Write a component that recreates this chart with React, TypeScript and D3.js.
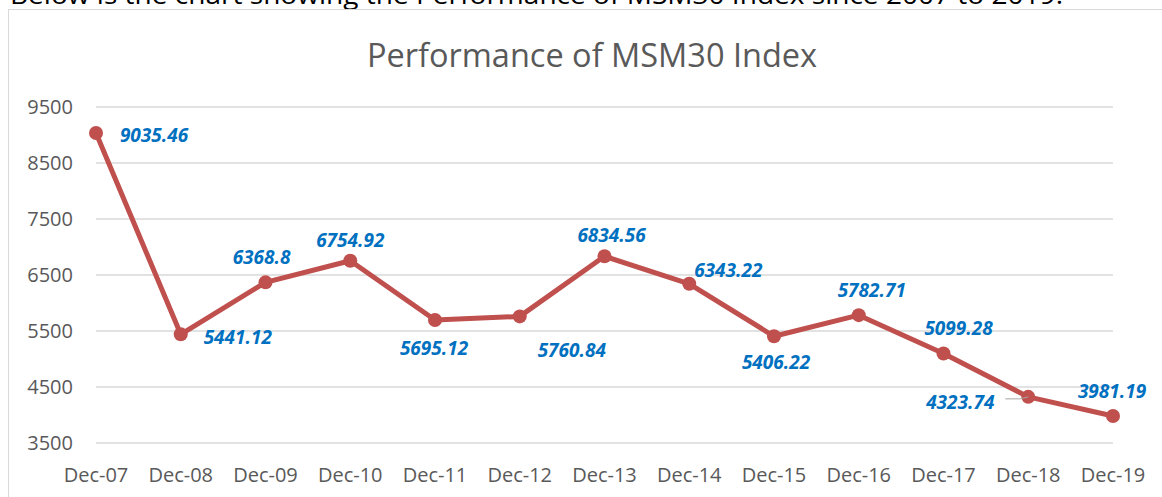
import React, {useEffect, useRef} from 'react';
import * as d3 from 'd3';

// MSM30 index, year-end closing values
const periods = ['Dec-07', 'Dec-08', 'Dec-09', 'Dec-10', 'Dec-11', 'Dec-12', 'Dec-13',
    'Dec-14', 'Dec-15', 'Dec-16', 'Dec-17', 'Dec-18', 'Dec-19'];
const indexValues = [9035.46, 5441.12, 6368.8, 6754.92, 5695.12, 5760.84, 6834.56,
    6343.22, 5406.22, 5782.71, 5099.28, 4323.74, 3981.19];
const yTicks = [3500, 4500, 5500, 6500, 7500, 8500, 9500];

const chartTitle = 'Performance of MSM30 Index';
const introText = 'Below is the chart showing the Performance of MSM30 Index since 2007 to 2019.';

export default function App() {
    const svgRef = useRef<SVGSVGElement>(null);

    const svgWidth = 1162,
        svgHeight = 497;

    useEffect(() => {
        const svg = d3.select(svgRef.current);
        svg.selectAll('*').remove();

        const font = '"Open Sans", "DejaVu Sans", sans-serif';

        // sentence from the surrounding document, cut off at the top
        svg.append('text')
            .attr('x', 10)
            .attr('y', 4)
            .attr('textLength', 1053)
            .attr('lengthAdjust', 'spacingAndGlyphs')
            .style('font-family', font)
            .style('font-size', '26px')
            .attr('fill', '#000')
            .text(introText);

        // chart area border (runs off the right and bottom edges)
        svg.append('rect')
            .attr('x', 8.5)
            .attr('y', 9.5)
            .attr('width', 1180)
            .attr('height', 520)
            .attr('fill', 'none')
            .attr('stroke', '#d9d9d9')
            .attr('stroke-width', 1);

        svg.append('text')
            .attr('x', 592)
            .attr('y', 67)
            .attr('text-anchor', 'middle')
            .style('font-family', font)
            .style('font-size', '32.5px')
            .attr('fill', '#595959')
            .text(chartTitle);

        const x = d3.scalePoint<string>()
            .domain(periods)
            .range([96, 1113]);

        const y = d3.scaleLinear()
            .domain([3500, 9500])
            .range([443, 107]);

        // horizontal gridlines
        svg.append('g')
            .selectAll('line')
            .data(yTicks)
            .enter()
            .append('line')
            .attr('x1', 96)
            .attr('x2', 1113)
            .attr('y1', d => y(d))
            .attr('y2', d => y(d))
            .attr('stroke', '#d9d9d9')
            .attr('stroke-width', 1.5);

        // y axis labels
        svg.append('g')
            .selectAll('text')
            .data(yTicks)
            .enter()
            .append('text')
            .attr('x', 73)
            .attr('y', d => y(d))
            .attr('dy', '0.35em')
            .attr('text-anchor', 'end')
            .style('font-family', font)
            .style('font-size', '20px')
            .attr('fill', '#595959')
            .text(d => d);

        // x axis labels
        svg.append('g')
            .selectAll('text')
            .data(periods)
            .enter()
            .append('text')
            .attr('x', d => x(d)!)
            .attr('y', 475)
            .attr('dy', '0.35em')
            .attr('text-anchor', 'middle')
            .style('font-family', font)
            .style('font-size', '20px')
            .attr('fill', '#595959')
            .text(d => d);

        const points = periods.map((p, i) => [x(p)!, y(indexValues[i])] as [number, number]);

        const line = d3.line<[number, number]>()
            .x(d => d[0])
            .y(d => d[1]);

        svg.append('path')
            .datum(points)
            .attr('d', line)
            .attr('fill', 'none')
            .attr('stroke', '#c0504d')
            .attr('stroke-width', 5)
            .attr('stroke-linejoin', 'round');

        svg.append('g')
            .selectAll('circle')
            .data(points)
            .enter()
            .append('circle')
            .attr('cx', d => d[0])
            .attr('cy', d => d[1])
            .attr('r', 7)
            .attr('fill', '#c0504d');

        // label placement, as Excel left it: [dx, dy] of label centre from the point
        const labelOffset = [
            [58, 2], [57, 3], [-4, -25], [0, -20], [-1, 28], [52, 34], [7, -21],
            [39, -13], [2, 26], [13, -25], [15, -25], [-68, 5], [-1, -25]
        ];

        // leader line for the Dec-18 label
        const p18 = points[11];
        svg.append('path')
            .attr('d', `M${p18[0] - 23},${p18[1] + 2} L${p18[0] - 8},${p18[1] + 2} L${p18[0]},${p18[1]}`)
            .attr('fill', 'none')
            .attr('stroke', '#a6a6a6')
            .attr('stroke-width', 1);

        svg.append('g')
            .selectAll('text')
            .data(points)
            .enter()
            .append('text')
            .attr('x', (d, i) => d[0] + labelOffset[i][0])
            .attr('y', (d, i) => d[1] + labelOffset[i][1])
            .attr('dy', '0.35em')
            .attr('text-anchor', 'middle')
            .style('font-family', font)
            .style('font-size', '19px')
            .style('font-weight', 'bold')
            .style('font-style', 'italic')
            .attr('fill', '#0070c0')
            .text((d, i) => indexValues[i]);
    }, []);

    return (
        <div>
            <svg ref={svgRef} width={svgWidth} height={svgHeight}
                 style={{position: 'absolute', left: 0, top: 0}}/>
        </div>
    );
}
